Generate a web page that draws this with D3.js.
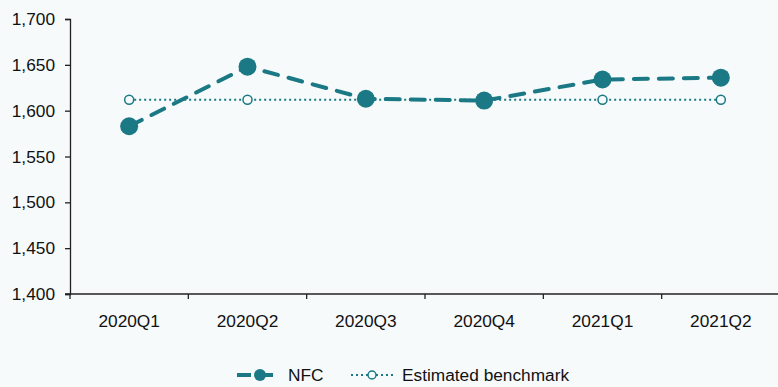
<!DOCTYPE html>
<html>
<head>
<meta charset="utf-8">
<script src="https://cdn.jsdelivr.net/npm/d3@7"></script>
<style>
  html, body { margin: 0; padding: 0; background: #f6fafb; }
  svg { display: block; font-family: "Liberation Sans", Arial, sans-serif; }
</style>
</head>
<body>
<div id="chart"></div>
<script>
// data
var quarters = ["2020Q1", "2020Q2", "2020Q3", "2020Q4", "2021Q1", "2021Q2"]
var nfc = [1583, 1648, 1613, 1611, 1634, 1636]
var benchmark = [1612, 1612, 1612, 1612, 1612, 1612]
var yTicks = [1400, 1450, 1500, 1550, 1600, 1650, 1700]

var width = 778
    height = 387
    margin = {top: 19, right: 0, bottom: 93, left: 70}

var teal = "#1a7984"
var fontSize = "17.3px"

var svg = d3.select("#chart")
            .append("svg")
            .attr("width", width)
            .attr("height", height)

var x = d3.scaleBand()
          .domain(quarters)
          .range([margin.left, width - margin.right + 2])

var y = d3.scaleLinear()
          .domain([1400, 1700])
          .range([height - margin.bottom, margin.top])

// y axis
var yAxis = svg.append("g")
    .attr("transform", "translate(" + margin.left + ",0)")
    .call(d3.axisLeft(y).tickValues(yTicks).tickSize(5).tickPadding(10).tickFormat(d3.format(",")))
yAxis.select(".domain").attr("stroke", "#222").attr("stroke-width", 1.3)
yAxis.selectAll(".tick line").attr("stroke", "#222").attr("stroke-width", 1.3)
yAxis.selectAll("text").style("font-size", fontSize).attr("fill", "#111")

// x axis, ticks on band edges
var xAxis = svg.append("g")
    .attr("transform", "translate(0," + y(1400) + ")")
xAxis.append("line")
    .attr("x1", margin.left - 5).attr("x2", width)
    .attr("stroke", "#222").attr("stroke-width", 1.3)
xAxis.selectAll(".edge")
    .data(quarters)
    .enter()
    .append("line")
    .attr("class", "edge")
    .attr("x1", function(d) { return x(d) })
    .attr("x2", function(d) { return x(d) })
    .attr("y1", 0).attr("y2", 5)
    .attr("stroke", "#222").attr("stroke-width", 1.3)
xAxis.selectAll(".lbl")
    .data(quarters)
    .enter()
    .append("text")
    .attr("class", "lbl")
    .attr("x", function(d) { return x(d) + x.bandwidth() / 2 })
    .attr("y", 33)
    .attr("text-anchor", "middle")
    .style("font-size", fontSize)
    .attr("fill", "#111")
    .text(function(d) { return d })

var cx = function(d, i) { return x(quarters[i]) + x.bandwidth() / 2 }

var line = d3.line()
             .x(function(d, i) { return cx(d, i) })
             .y(function(d) { return y(d) })

// benchmark (dotted, hollow markers)
svg.append("path")
    .datum(benchmark)
    .attr("d", line)
    .attr("fill", "none")
    .attr("stroke", teal)
    .attr("stroke-width", 2)
    .attr("stroke-dasharray", "2,3")

// NFC (dashed, filled markers)
svg.append("path")
    .datum(nfc)
    .attr("d", line)
    .attr("fill", "none")
    .attr("stroke", teal)
    .attr("stroke-width", 4)
    .attr("stroke-linecap", "round")
    .attr("stroke-dasharray", "14,11")

svg.selectAll(".bm")
    .data(benchmark)
    .enter()
    .append("circle")
    .attr("class", "bm")
    .attr("cx", cx)
    .attr("cy", function(d) { return y(d) })
    .attr("r", 4.5)
    .attr("fill", "#f6fafb")
    .attr("stroke", teal)
    .attr("stroke-width", 1.5)

svg.selectAll(".nfc")
    .data(nfc)
    .enter()
    .append("circle")
    .attr("class", "nfc")
    .attr("cx", cx)
    .attr("cy", function(d) { return y(d) })
    .attr("r", 9)
    .attr("fill", teal)

// legend
var leg = svg.append("g").attr("transform", "translate(0,375)")
leg.append("line")
    .attr("x1", 237).attr("x2", 278)
    .attr("stroke", teal).attr("stroke-width", 4)
    .attr("stroke-dasharray", "14,8")
leg.append("circle").attr("cx", 260).attr("cy", 0).attr("r", 6).attr("fill", teal)
leg.append("text")
    .attr("x", 288).attr("y", 6)
    .style("font-size", fontSize).attr("fill", "#111")
    .text("NFC")

leg.append("line")
    .attr("x1", 351).attr("x2", 393)
    .attr("stroke", teal).attr("stroke-width", 2)
    .attr("stroke-dasharray", "2,3")
leg.append("circle").attr("cx", 372).attr("cy", 0).attr("r", 4)
    .attr("fill", "#f6fafb").attr("stroke", teal).attr("stroke-width", 1.5)
leg.append("text")
    .attr("x", 402).attr("y", 6)
    .style("font-size", fontSize).attr("fill", "#111")
    .text("Estimated benchmark")
</script>
</body>
</html>
